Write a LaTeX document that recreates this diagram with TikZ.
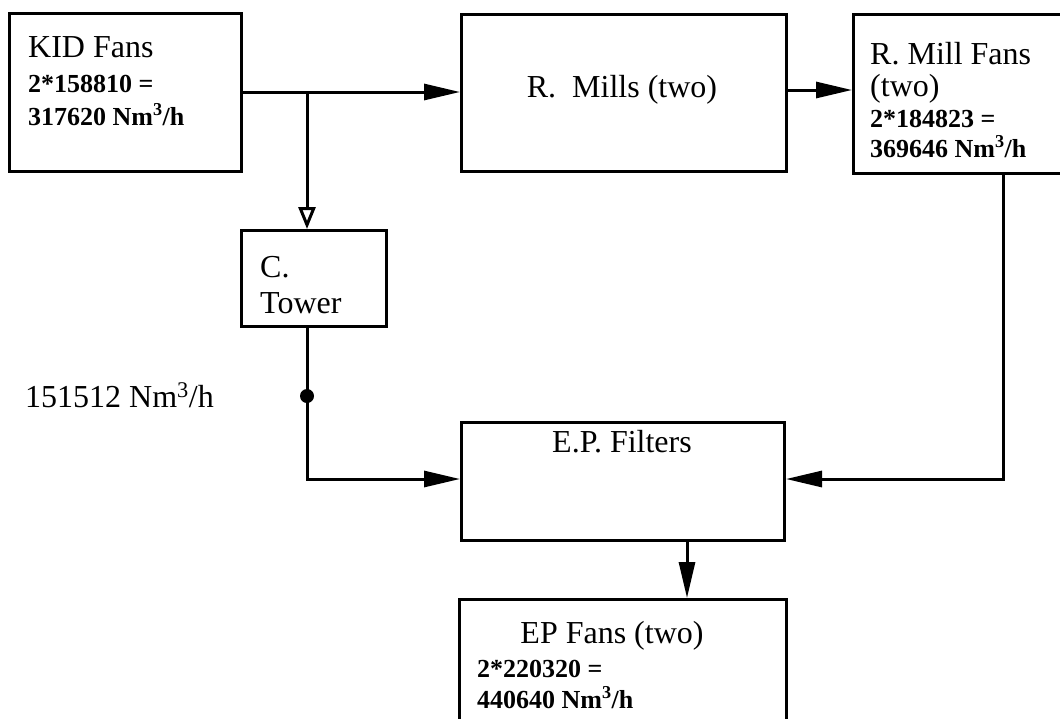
\documentclass[tikz,border=0pt]{standalone}
\usepackage{fontspec}
\setmainfont{Liberation Serif}
\usetikzlibrary{arrows.meta}
\begin{document}
\begin{tikzpicture}[x=1pt,y=-1pt,
  box/.style={draw, line width=3pt, inner sep=0pt, anchor=north west},
  reg/.style={font=\fontsize{32}{34}\selectfont, inner sep=0pt},
  bld/.style={font=\fontsize{26}{28}\selectfont\bfseries, inner sep=0pt},
  conn/.style={line width=3pt},
  flow/.style={conn, -{Triangle[length=36pt,width=16pt]}},
  openflow/.style={conn, -{Triangle[open,length=22pt,width=17pt]}}]
\clip (0,0) rectangle (1060,718);
\fill[white] (0,0) rectangle (1060,718);
% boxes
\node[box, minimum width=232pt, minimum height=158pt] (kid) at (8,12) {};
\node[box, minimum width=325pt, minimum height=157pt] (mills) at (460,13) {};
\node[box, minimum width=230pt, minimum height=159pt] (rmf) at (852,13) {};
\node[box, minimum width=145pt, minimum height=96pt] (tower) at (240,229) {};
\node[box, minimum width=323pt, minimum height=118pt] (epf) at (460,421) {};
\node[box, minimum width=327pt, minimum height=140pt] (epfans) at (458,598) {};
% texts
\node[reg, anchor=base west] (kid1) at (28,57) {KID Fans};
\node[bld, anchor=base west] (kid2) at (28,92) {2*158810 =};
\node[bld, anchor=base west] (kid3) at (28,125) {317620 Nm\textsuperscript{3}/h};
\node[reg, anchor=base] (mills1) at (622,97) {R.~~Mills (two)};
\node[reg, anchor=base west] (rmf1) at (870,64) {R. Mill Fans};
\node[reg, anchor=base west] (rmf2) at (870,96) {(two)};
\node[bld, anchor=base west] (rmf3) at (870,127) {2*184823 =};
\node[bld, anchor=base west] (rmf4) at (870,157) {369646 Nm\textsuperscript{3}/h};
\node[reg, anchor=base west] (tow1) at (260,277) {C.};
\node[reg, anchor=base west] (tow2) at (260,313) {Tower};
\node[reg, anchor=base west] (flowlbl) at (25,407) {151512 Nm\textsuperscript{3}/h};
\node[reg, anchor=base] (epf1) at (622,452) {E.P. Filters};
\node[reg, anchor=base] (epfans1) at (612,643) {EP Fans (two)};
\node[bld, anchor=base west] (epfans2) at (477,677) {2*220320 =};
\node[bld, anchor=base west] (epfans3) at (477,708) {440640 Nm\textsuperscript{3}/h};
% helper coordinates
\coordinate (ytop2) at (0,90);
\coordinate (br) at (307,92);
\coordinate (yin) at (0,479);
\coordinate (rmfout) at (1003,172);
\coordinate (epx) at (687,0);
\node[circle, fill, inner sep=0pt, minimum size=14pt] (dot) at (307,396) {};
% connectors
\draw[flow] (kid.east |- br) -- (mills.west |- br);
\draw[openflow] (br) -- (tower.north -| br);
\draw[flow] (mills.east |- ytop2) -- (rmf.west |- ytop2);
\draw[flow] (rmfout) |- (epf.east |- yin);
\draw[conn] (tower.south -| br) -- (dot.center);
\draw[flow] (dot.center) |- (epf.west |- yin);
\draw[flow] (epf.south -| epx) -- (epfans.north -| epx);
\end{tikzpicture}
\end{document}
